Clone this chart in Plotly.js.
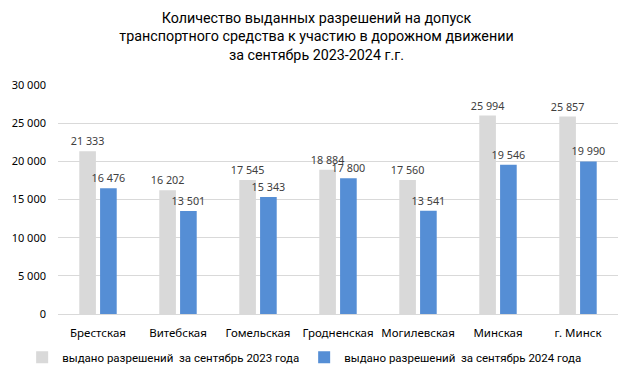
<!DOCTYPE html>
<html>
<head>
<meta charset="utf-8">
<script src="https://cdn.plot.ly/plotly-3.0.1.min.js"></script>
<style>html,body{margin:0;padding:0;background:#fff;}</style>
</head>
<body>
<div id="chart" style="width:633px;height:380px;"></div>
<script>
const categories = ["Брестская", "Витебская", "Гомельская", "Гродненская", "Могилевская", "Минская", "г. Минск"];
const values2023 = [21333, 16202, 17545, 18884, 17560, 25994, 25857];
const values2024 = [16476, 13501, 15343, 17800, 13541, 19546, 19990];
const seriesNames = ["выдано разрешений  за сентябрь 2023 года", "выдано разрешений  за сентябрь 2024 года"];
const yTicks = [0, 5000, 10000, 15000, 20000, 25000, 30000];

const tickFamily = "Noto Sans, DejaVu Sans, sans-serif";
const labelFont = {family: tickFamily, size: 10.8, color: "#404040"};

const traces = [
  {type: "bar", x: categories, y: values2023, name: seriesNames[0],
   marker: {color: "#d9d9d9"},
   texttemplate: "%{y:,d}", textposition: "outside", cliponaxis: false, constraintext: "none",
   textfont: labelFont, hoverinfo: "skip"},
  {type: "bar", x: categories, y: values2024, name: seriesNames[1],
   marker: {color: "#558ed5"},
   texttemplate: "%{y:,d}", textposition: "outside", cliponaxis: false, constraintext: "none",
   textfont: labelFont, hoverinfo: "skip"}
];

const layout = {
  width: 633, height: 380,
  separators: ", ",
  paper_bgcolor: "#ffffff", plot_bgcolor: "#ffffff",
  margin: {l: 58, r: 15, t: 85, b: 66},
  title: {
    text: "Количество выданных разрешений на допуск<br>транспортного средства к участию в дорожном движении<br>за сентябрь 2023-2024 г.г.",
    font: {family: "Roboto, sans-serif", size: 14.3, color: "#000000"},
    x: 0.5, xanchor: "center", y: 0.94, yanchor: "top"
  },
  barmode: "group", bargap: 0.48, bargroupgap: 0.2,
  xaxis: {
    tickfont: {family: tickFamily, size: 11.5, color: "#000000"},
    showgrid: false, showline: true, linecolor: "#d9d9d9", ticks: "",
    ticklabelstandoff: 8, fixedrange: true, automargin: false
  },
  yaxis: {
    range: [0, 30000], tickvals: yTicks, tickformat: ",d",
    tickfont: {family: tickFamily, size: 11, color: "#000000"},
    showgrid: true, gridcolor: "#d9d9d9", zeroline: false, showline: false, ticks: "",
    ticklabelstandoff: 11, fixedrange: true, automargin: false
  },
  showlegend: true,
  legend: {
    orientation: "h", xref: "container", x: 0.035, xanchor: "left",
    yref: "container", y: 0.06, yanchor: "middle",
    bgcolor: "rgba(0,0,0,0)",
    font: {family: "Roboto, sans-serif", size: 11.5, color: "#000000"},
    itemwidth: 30, traceorder: "normal"
  }
};

Plotly.newPlot("chart", traces, layout, {displayModeBar: false, staticPlot: true});
</script>
</body>
</html>
